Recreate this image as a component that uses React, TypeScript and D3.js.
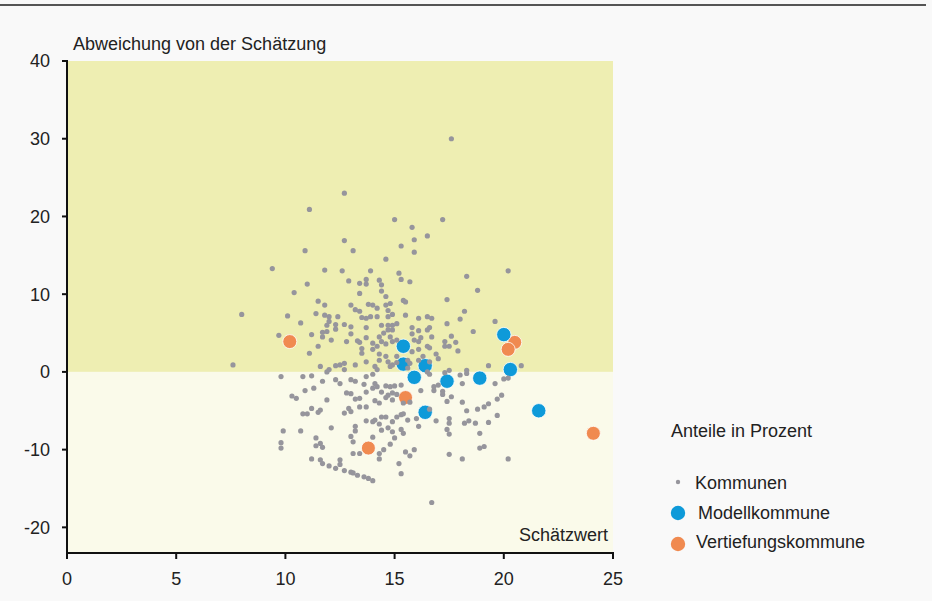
import React from "react";
import * as d3 from "d3";

// ---- data (Schätzwert in %, Abweichung von der Schätzung in %-Punkten) ----
const kommunen: [number, number][] = [
  [17.6, 30.0], [12.7, 23.0], [11.1, 20.9], [15.0, 19.6], [17.2, 19.6], [15.8, 18.6], [12.7, 16.9], [15.9, 17.0],
  [16.5, 17.5], [10.9, 15.6], [13.1, 15.6], [15.3, 16.2], [15.9, 15.4], [14.6, 14.5], [9.4, 13.3], [11.8, 13.1],
  [12.6, 13.0], [13.9, 13.0], [15.2, 12.7], [15.3, 11.9], [15.7, 11.6], [18.3, 12.3], [18.8, 10.5], [20.2, 13.0],
  [11.0, 11.3], [12.9, 11.7], [13.7, 11.9], [13.7, 11.3], [13.4, 11.4], [14.3, 11.8], [14.4, 11.2], [14.4, 10.4],
  [13.4, 10.1], [10.4, 10.2], [14.6, 9.7], [11.5, 9.1], [11.8, 8.6], [13.0, 8.6], [13.2, 8.0], [13.4, 7.8],
  [13.8, 8.7], [14.0, 8.6], [14.2, 8.2], [14.6, 8.6], [14.8, 8.8], [14.7, 7.9], [15.4, 9.2], [15.5, 9.0],
  [17.4, 9.3], [8.0, 7.4], [10.1, 7.2], [11.4, 7.5], [11.8, 7.3], [12.0, 7.1], [12.4, 7.1], [12.0, 6.5],
  [11.9, 6.0], [12.3, 6.1], [12.3, 5.5], [12.7, 6.1], [13.0, 5.8], [13.5, 7.0], [13.7, 6.9], [13.9, 7.1],
  [14.2, 7.1], [14.7, 7.1], [14.9, 7.4], [15.5, 7.3], [16.1, 6.9], [16.5, 7.1], [16.7, 6.9], [18.0, 6.8],
  [18.2, 7.8], [19.6, 6.5], [17.4, 6.2], [10.7, 6.3], [15.1, 6.2], [14.4, 6.0], [14.7, 6.0], [14.9, 6.0],
  [13.7, 5.7], [14.5, 5.0], [14.7, 5.4], [14.9, 5.4], [15.8, 5.7], [16.1, 5.3], [16.5, 5.4], [16.6, 5.7],
  [15.8, 4.9], [16.2, 4.4], [16.7, 4.5], [18.6, 5.2], [17.6, 4.6], [9.7, 4.7], [11.2, 4.8], [11.7, 5.1],
  [11.9, 5.2], [11.7, 4.5], [12.1, 4.1], [12.8, 3.9], [13.0, 4.9], [13.3, 4.0], [13.4, 3.8], [13.7, 4.4],
  [14.0, 3.7], [14.3, 4.5], [14.4, 3.9], [14.6, 3.6], [14.8, 4.5], [14.9, 3.9], [15.1, 4.1], [14.2, 3.3],
  [11.5, 3.3], [11.1, 2.4], [13.5, 3.0], [13.5, 2.4], [14.0, 2.9], [14.3, 2.3], [14.6, 2.0], [15.1, 2.0],
  [13.7, 1.3], [14.7, 1.3], [15.1, 1.2], [14.9, 0.9], [14.3, 1.5], [15.6, 1.5], [16.3, 2.0], [16.6, 1.3],
  [16.9, 2.3], [16.5, 3.3], [16.1, 3.9], [16.1, 2.9], [15.8, 2.6], [15.9, 4.1], [16.6, 3.1], [17.3, 3.9],
  [17.3, 3.3], [17.5, 3.3], [17.8, 3.8], [17.9, 2.7], [17.0, 1.7], [16.1, 1.5], [15.7, 1.1], [15.6, 0.5],
  [16.5, 0.0], [17.3, -0.1], [17.5, 0.2], [18.3, 0.2], [19.3, 0.8], [20.8, 0.8], [11.6, 0.7], [12.3, 0.8],
  [12.5, 0.9], [12.7, 1.1], [13.2, 0.9], [12.0, 0.3], [12.7, 0.3], [14.1, 0.7], [14.8, 0.7], [14.2, 0.3],
  [7.6, 0.9], [9.8, -0.6], [10.8, -0.6], [11.2, -0.5], [11.7, -1.2], [11.9, 0.0], [12.3, -1.0], [12.5, -1.5],
  [13.0, -1.0], [13.2, -1.2], [13.6, -1.6], [13.7, -0.6], [14.0, -0.3], [14.1, -1.5], [14.2, -1.9], [14.0, -2.1],
  [14.6, -1.8], [14.4, -2.6], [14.8, -1.9], [15.0, -1.8], [15.3, -1.7], [14.7, -3.0], [14.9, -2.7], [15.1, -2.9],
  [14.6, -3.3], [14.9, -3.6], [15.4, -4.0], [15.7, -3.9], [16.2, -2.4], [16.8, -1.9], [10.3, -3.1], [10.5, -3.4],
  [10.9, -2.4], [11.3, -2.1], [11.9, -3.6], [12.8, -2.7], [13.0, -2.8], [13.2, -3.5], [13.4, -3.4], [13.7, -2.6],
  [14.1, -3.7], [14.3, -4.0], [13.7, -4.5], [12.9, -4.7], [12.7, -5.3], [13.0, -5.1], [13.4, -4.5], [11.2, -4.7],
  [11.6, -4.9], [11.5, -5.2], [10.8, -5.4], [11.0, -5.4], [9.9, -7.6], [10.7, -7.6], [12.1, -7.2], [13.2, -7.0],
  [13.2, -7.6], [13.7, -6.3], [14.0, -6.4], [14.1, -6.2], [14.4, -5.8], [14.3, -6.7], [14.6, -5.8], [14.9, -6.4],
  [15.1, -5.8], [15.3, -5.5], [15.4, -5.4], [15.6, -6.2], [16.0, -6.0], [16.1, -7.0], [16.9, -6.3], [14.7, -7.2],
  [14.9, -7.7], [15.0, -8.5], [15.3, -7.4], [14.4, -7.5], [13.0, -8.3], [13.1, -9.0], [14.0, -8.4], [11.4, -8.5],
  [11.6, -9.2], [11.4, -9.5], [11.7, -9.7], [9.8, -9.1], [9.8, -9.8], [13.1, -10.5], [13.4, -10.5], [14.3, -10.5],
  [14.5, -10.0], [14.8, -9.3], [15.5, -10.3], [15.7, -10.8], [15.9, -10.0], [15.2, -11.8], [15.3, -13.1], [14.3, -11.2],
  [11.2, -11.2], [11.6, -11.3], [11.7, -11.8], [12.0, -12.1], [12.3, -12.4], [12.5, -11.9], [12.5, -11.3], [12.7, -12.7],
  [13.0, -12.9], [13.1, -13.0], [13.3, -13.3], [13.6, -13.5], [13.8, -13.7], [14.0, -14.0], [18.3, -0.2], [18.0, -0.4],
  [16.6, -0.3], [17.0, -1.7], [16.8, -2.4], [17.2, -2.5], [17.2, -2.9], [17.6, -3.2], [17.4, -3.8], [18.1, -3.9],
  [18.1, -1.5], [19.6, -1.5], [20.0, -0.9], [20.2, -0.8], [19.7, -3.5], [19.9, -3.0], [19.3, -4.1], [19.1, -4.5],
  [18.8, -4.8], [18.3, -5.0], [19.7, -5.6], [19.3, -6.5], [18.7, -6.6], [18.2, -6.6], [18.4, -6.3], [17.5, -6.0],
  [17.5, -6.6], [17.4, -7.4], [17.5, -8.0], [16.6, -4.8], [18.9, -7.9], [19.1, -9.6], [18.9, -9.8], [17.5, -10.6],
  [18.1, -11.2], [20.2, -11.2], [16.7, -16.8], [15.4, -7.9],
];

const modellkommunen: [number, number][] = [
  [15.4, 3.3], [20.0, 4.8], [15.4, 1.0], [16.4, 0.8], [15.9, -0.7],
  [17.4, -1.2], [18.9, -0.8], [20.3, 0.3], [21.6, -5.0], [16.4, -5.2],
];

const vertiefungskommunen: [number, number][] = [
  [10.2, 3.9], [20.5, 3.8], [20.2, 2.9], [15.5, -3.3], [13.8, -9.8], [24.1, -7.9],
];

const xTicks = [0, 5, 10, 15, 20, 25];
const yTicks = [-20, -10, 0, 10, 20, 30, 40];
const yTitle = "Abweichung von der Schätzung";
const xTitle = "Schätzwert";
const legendTitle = "Anteile in Prozent";
const legendLabels = ["Kommunen", "Modellkommune", "Vertiefungskommune"];

// ---- styling ----
const FONT = "'Liberation Sans', Arial, sans-serif";
const TEXT = "#222";
const GREY = "#96959c";
const BLUE = "#0e9ad9";
const ORANGE = "#f08a50";
const POS_BG = "#eeeeb2";
const NEG_BG = "#fafaea";
const PAGE_BG = "#f9f9f9";

export default function App() {
  const W = 932;
  const H = 601;
  const x = d3.scaleLinear().domain([0, 25]).range([67, 613]);
  const y = d3.scaleLinear().domain([-23.3, 40]).range([553, 61]);
  const [x0, x1] = x.range();
  const [yb, yt] = y.range();
  const fs = 18;

  return (
    <svg
      width={W}
      height={H}
      style={{ position: "absolute", left: 0, top: 0, display: "block" }}
      fontFamily={FONT}
    >
      <rect x={0} y={0} width={W} height={H} fill={PAGE_BG} />
      <line x1={0} x2={926} y1={5} y2={5} stroke="#555" strokeWidth={2} />

      {/* background zones */}
      <rect x={x0} y={yt} width={x1 - x0} height={y(0) - yt} fill={POS_BG} />
      <rect x={x0} y={y(0)} width={x1 - x0} height={yb - y(0)} fill={NEG_BG} />

      {/* highlighted municipalities */}
      {vertiefungskommunen.map((d, i) => (
        <circle key={"o" + i} cx={x(d[0])} cy={y(d[1])} r={7} fill={ORANGE} stroke="#fff" strokeWidth={0.8} />
      ))}
      {modellkommunen.map((d, i) => (
        <circle key={"b" + i} cx={x(d[0])} cy={y(d[1])} r={7.2} fill={BLUE} stroke="#fff" strokeWidth={0.8} />
      ))}
      {/* all municipalities */}
      {kommunen.map((d, i) => (
        <circle key={"g" + i} cx={x(d[0])} cy={y(d[1])} r={2.6} fill={GREY} />
      ))}

      {/* y axis */}
      <line x1={x0} x2={x0} y1={yt - 1} y2={yb} stroke="#111" strokeWidth={2} />
      {yTicks.map((t) => (
        <g key={"yt" + t}>
          <line x1={x0 - 5} x2={x0} y1={y(t)} y2={y(t)} stroke="#111" strokeWidth={2} />
          <text x={50} y={y(t)} dy="0.36em" textAnchor="end" fontSize={fs} fill={TEXT}>
            {t}
          </text>
        </g>
      ))}

      {/* x axis */}
      <line x1={x0 - 1} x2={x1 + 1} y1={yb} y2={yb} stroke="#111" strokeWidth={2} />
      {xTicks.map((t) => (
        <g key={"xt" + t}>
          <line x1={x(t)} x2={x(t)} y1={yb} y2={yb + 6} stroke="#111" strokeWidth={2} />
          <text x={x(t)} y={585} textAnchor="middle" fontSize={fs} fill={TEXT}>
            {t}
          </text>
        </g>
      ))}

      <text x={73} y={50} fontSize={fs} fill={TEXT}>
        {yTitle}
      </text>
      <text x={608} y={541} textAnchor="end" fontSize={fs} fill={TEXT}>
        {xTitle}
      </text>

      {/* legend */}
      <text x={671} y={437} fontSize={fs} fill={TEXT}>
        {legendTitle}
      </text>
      <circle cx={678} cy={482} r={2.2} fill={GREY} />
      <text x={695} y={489} fontSize={fs} fill={TEXT}>
        {legendLabels[0]}
      </text>
      <circle cx={678} cy={513} r={7.2} fill={BLUE} />
      <text x={698} y={519} fontSize={fs} fill={TEXT}>
        {legendLabels[1]}
      </text>
      <circle cx={678} cy={544} r={7.2} fill={ORANGE} />
      <text x={696} y={548} fontSize={fs} fill={TEXT}>
        {legendLabels[2]}
      </text>
    </svg>
  );
}
